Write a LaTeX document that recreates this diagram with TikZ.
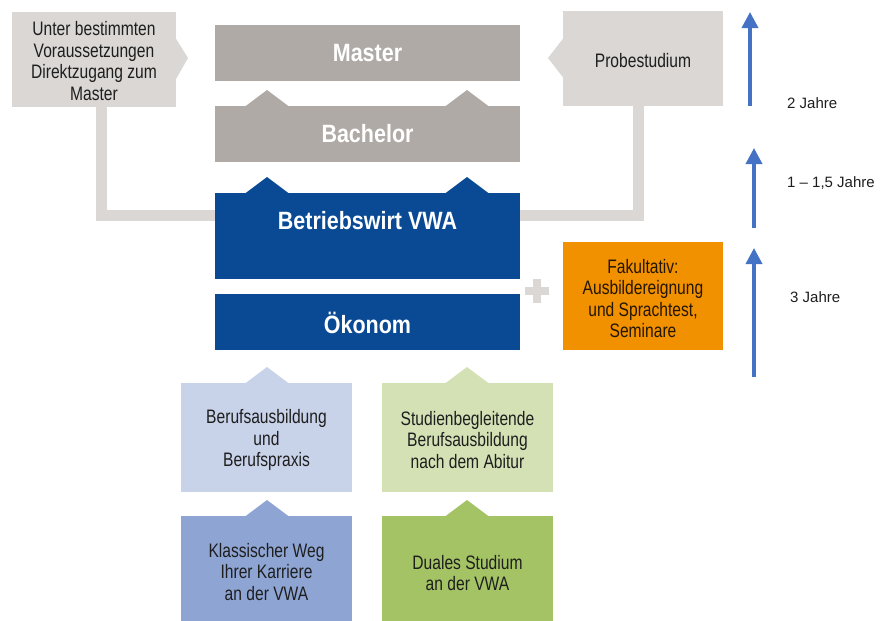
\documentclass[tikz,border=0pt]{standalone}
\usepackage{fontspec}
\setmainfont[FakeStretch=0.8]{Liberation Sans}
\newfontfamily\boldcn[FakeStretch=0.86]{Liberation Sans}
\newfontfamily\plainsans{Liberation Sans}
\usetikzlibrary{arrows.meta}
\definecolor{grayA}{HTML}{B0AAA7}
\definecolor{grayL}{HTML}{DAD7D5}
\definecolor{vwablue}{HTML}{0A4A95}
\definecolor{orangeF}{HTML}{F29100}
\definecolor{blueL}{HTML}{C8D3EA}
\definecolor{blueM}{HTML}{8EA5D4}
\definecolor{greenL}{HTML}{D4E1B5}
\definecolor{greenM}{HTML}{A4C365}
\definecolor{arrowblue}{HTML}{4472C4}
\definecolor{txt}{HTML}{1E1E1E}
\tikzset{
  bx/.style={inner sep=0pt, outer sep=0pt, draw=none},
  lbl/.style={inner sep=0pt, align=center, text=txt, font=\fontsize{19.5}{21.5}\selectfont},
  bld/.style={inner sep=0pt, align=center, text=white, font=\boldcn\bfseries\fontsize{25}{28}\selectfont},
  yrs/.style={inner sep=0pt, anchor=west, text=txt, font=\plainsans\fontsize{15}{18}\selectfont},
  conn/.style={draw=grayL, line width=11pt, line join=miter},
  dur/.style={draw=arrowblue, line width=3.5pt, -{Triangle[width=16pt,length=16pt]}}
}
\newcommand\bumpat[3]{\fill[#1] (#2-22,#3+0.5) -- (#2,#3-16) -- (#2+22,#3+0.5) -- cycle;}
\begin{document}
\begin{tikzpicture}[x=1pt,y=-1pt]
\useasboundingbox (0,0) rectangle (889,621);
% side boxes and connectors (behind main boxes)
\node[bx, fill=grayL, minimum width=164pt, minimum height=95pt] (unter) at (94,59.5) {};
\node[bx, fill=grayL, minimum width=160pt, minimum height=95pt] (probe) at (643,58.5) {};
\coordinate (lc) at (101,215);
\coordinate (rc) at (638,215);
\node[bx, fill=vwablue, minimum width=305pt, minimum height=86pt] (betrieb) at (367.5,236) {};
\draw[conn] (unter.south -| lc) -- (lc) -- (betrieb.west |- lc);
\draw[conn] (probe.south -| rc) -- (rc) -- (betrieb.east |- rc);
% pointers
\fill[grayL] (175.5,38) -- (188,58) -- (175.5,80) -- cycle;
\fill[grayL] (563.5,38) -- (548,58) -- (563.5,78) -- cycle;
% main column
\node[bx, fill=grayA, minimum width=305pt, minimum height=56pt] (master) at (367.5,53) {};
\node[bx, fill=grayA, minimum width=305pt, minimum height=56pt] (bach) at (367.5,134) {};
\bumpat{grayA}{267}{106}
\bumpat{grayA}{467}{106}
\bumpat{vwablue}{267}{193}
\bumpat{vwablue}{467}{193}
\node[bx, fill=vwablue, minimum width=305pt, minimum height=56pt] (oek) at (367.5,322) {};
\node[bld] (mastert) at (367.5,53) {Master};
\node[bld] (bacht) at (367.5,134) {Bachelor};
\node[bld] (betriebt) at (367.5,221) {Betriebswirt VWA};
\node[bld] (oekt) at (367.5,323) {Ökonom};
% side texts
\node[lbl] (untert) at (94,61) {Unter bestimmten\\Voraussetzungen\\Direktzugang zum\\Master};
\node[lbl] (probet) at (643,61) {Probestudium};
% plus
\fill[grayL] (525,287) rectangle (549,295);
\fill[grayL] (533,279) rectangle (541,303);
\node[bx, fill=orangeF, minimum width=160pt, minimum height=108pt] (fak) at (643,296) {};
\node[lbl, text=black!85!orangeF] (fakt) at (643,298.5) {Fakultativ:\\Ausbildereignung\\und Sprachtest,\\Seminare};
% lower boxes
\node[bx, fill=blueL, minimum width=171pt, minimum height=109pt] (beruf) at (266.5,437.5) {};
\node[bx, fill=greenL, minimum width=171pt, minimum height=109pt] (studien) at (467.5,437.5) {};
\bumpat{blueL}{267}{383}
\bumpat{greenL}{467}{383}
\node[bx, fill=blueM, minimum width=171pt, minimum height=105pt] (klass) at (266.5,568.5) {};
\node[bx, fill=greenM, minimum width=171pt, minimum height=105pt] (dual) at (467.5,568.5) {};
\bumpat{blueM}{267}{516}
\bumpat{greenM}{467}{516}
\node[lbl] (beruft) at (266.5,440) {Berufsausbildung\\und\\Berufspraxis};
\node[lbl] (studient) at (467.5,440) {Studienbegleitende\\Berufsausbildung\\nach dem Abitur};
\node[lbl] (klasst) at (266.5,572) {Klassischer Weg\\Ihrer Karriere\\an der VWA};
\node[lbl] (dualt) at (467.5,573) {Duales Studium\\an der VWA};
% duration arrows
\coordinate (a1s) at (750,106);
\coordinate (a1e) at (750,12);
\coordinate (a2s) at (754,228);
\coordinate (a2e) at (754,148);
\coordinate (a3s) at (754,377);
\coordinate (a3e) at (754,248);
\draw[dur] (a1s) -- (a1e);
\draw[dur] (a2s) -- (a2e);
\draw[dur] (a3s) -- (a3e);
\node[yrs] (y1) at (787,103) {2 Jahre};
\node[yrs] (y2) at (787,183) {1 – 1,5 Jahre};
\node[yrs] (y3) at (790,297) {3 Jahre};
\end{tikzpicture}
\end{document}
